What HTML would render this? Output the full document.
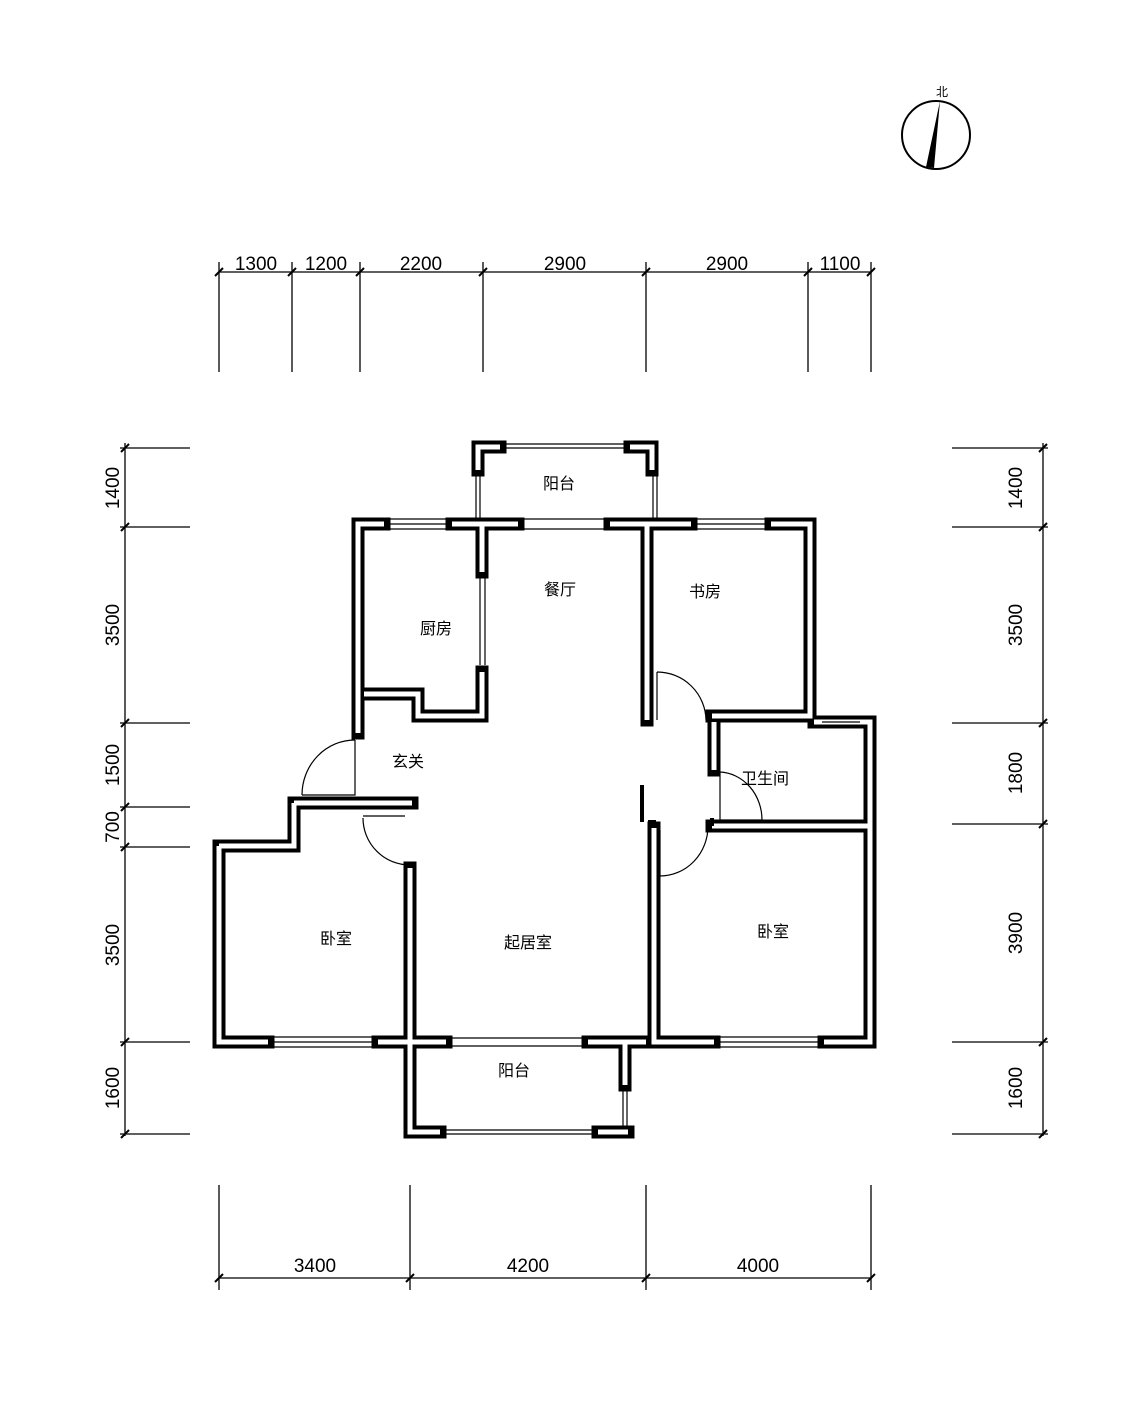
<!DOCTYPE html>
<html><head><meta charset="utf-8"><style>
html,body{margin:0;padding:0;background:#fff}
svg{display:block}
text{font-family:"Liberation Sans","Noto Sans CJK SC",sans-serif;fill:#000}
</style></head><body>
<svg width="1125" height="1406" viewBox="0 0 1125 1406" xmlns="http://www.w3.org/2000/svg">
<circle cx="936" cy="135" r="34" fill="none" stroke="#000" stroke-width="2"/>
<polygon points="940,101 934,168 926,167" fill="#000"/>
<text x="942" y="96" font-size="12" text-anchor="middle">北</text>

<g stroke="#000" stroke-width="1.3" fill="none">
<line x1="219" y1="272" x2="871" y2="272"/>
<line x1="219" y1="262" x2="219" y2="372"/><line x1="292" y1="262" x2="292" y2="372"/>
<line x1="360" y1="262" x2="360" y2="372"/><line x1="483" y1="262" x2="483" y2="372"/>
<line x1="646" y1="262" x2="646" y2="372"/><line x1="808" y1="262" x2="808" y2="372"/>
<line x1="871" y1="262" x2="871" y2="372"/>
<line x1="219" y1="1278" x2="871" y2="1278"/>
<line x1="219" y1="1185" x2="219" y2="1290"/><line x1="410" y1="1185" x2="410" y2="1290"/>
<line x1="646" y1="1185" x2="646" y2="1290"/><line x1="871" y1="1185" x2="871" y2="1290"/>
<line x1="125" y1="443" x2="125" y2="1136"/>
<line x1="120" y1="448" x2="190" y2="448"/><line x1="120" y1="527" x2="190" y2="527"/>
<line x1="120" y1="723" x2="190" y2="723"/><line x1="120" y1="807" x2="190" y2="807"/>
<line x1="120" y1="847" x2="190" y2="847"/><line x1="120" y1="1042" x2="190" y2="1042"/>
<line x1="120" y1="1134" x2="190" y2="1134"/>
<line x1="1043" y1="443" x2="1043" y2="1136"/>
<line x1="952" y1="448" x2="1048" y2="448"/><line x1="952" y1="527" x2="1048" y2="527"/>
<line x1="952" y1="723" x2="1048" y2="723"/><line x1="952" y1="824" x2="1048" y2="824"/>
<line x1="952" y1="1042" x2="1048" y2="1042"/><line x1="952" y1="1134" x2="1048" y2="1134"/>
</g>
<g stroke="#000" stroke-width="2">
<path d="M215,276l8,-8M288,276l8,-8M356,276l8,-8M479,276l8,-8M642,276l8,-8M804,276l8,-8M867,276l8,-8"/>
<path d="M215,1282l8,-8M406,1282l8,-8M642,1282l8,-8M867,1282l8,-8"/>
<path d="M121,452l8,-8M121,531l8,-8M121,727l8,-8M121,811l8,-8M121,851l8,-8M121,1046l8,-8M121,1138l8,-8"/>
<path d="M1039,452l8,-8M1039,531l8,-8M1039,727l8,-8M1039,828l8,-8M1039,1046l8,-8M1039,1138l8,-8"/>
</g>
<g font-size="19" text-anchor="middle">
<text x="256" y="270">1300</text><text x="326" y="270">1200</text><text x="421" y="270">2200</text>
<text x="565" y="270">2900</text><text x="727" y="270">2900</text><text x="840" y="270">1100</text>
<text x="315" y="1272">3400</text><text x="528" y="1272">4200</text><text x="758" y="1272">4000</text>
</g>
<g font-size="19" text-anchor="middle">
<text transform="translate(119,488) rotate(-90)">1400</text>
<text transform="translate(119,625) rotate(-90)">3500</text>
<text transform="translate(119,765) rotate(-90)">1500</text>
<text transform="translate(119,827) rotate(-90)">700</text>
<text transform="translate(119,945) rotate(-90)">3500</text>
<text transform="translate(119,1088) rotate(-90)">1600</text>
<text transform="translate(1022,488) rotate(-90)">1400</text>
<text transform="translate(1022,625) rotate(-90)">3500</text>
<text transform="translate(1022,773) rotate(-90)">1800</text>
<text transform="translate(1022,933) rotate(-90)">3900</text>
<text transform="translate(1022,1088) rotate(-90)">1600</text>
</g>

<g fill="none" stroke-linejoin="miter" stroke-linecap="square">
<g stroke="#000" stroke-width="13">
<path d="M384,524H358V733"/>
<path d="M364,694H418V716H482V672"/>
<path d="M452,524H518"/>
<path d="M482,524V572"/>
<path d="M610,524H691"/><path d="M647,524V720"/>
<path d="M771,524H810V716H712"/>
<path d="M478,470V447H500"/><path d="M630,447H652V470"/>
<path d="M714,722V770"/><path d="M814,722H870V1042H824"/>
<path d="M712,826H870"/>
<path d="M654,828V1042H714"/>
<path d="M294,803H412"/><path d="M219,846H294V803"/>
<path d="M219,846V1042H268"/><path d="M378,1042H446"/>
<path d="M410,868V1132H440"/>
<path d="M588,1042H646"/><path d="M625,1042V1085"/>
<path d="M598,1132H628"/>
</g>
<g stroke="#fff" stroke-width="5" stroke-linecap="butt">
<path d="M384,524H358V733"/>
<path d="M364,694H418V716H482V672"/>
<path d="M452,524H518"/>
<path d="M482,524V572"/>
<path d="M610,524H691"/><path d="M647,524V720"/>
<path d="M771,524H810V716H712"/>
<path d="M478,470V447H500"/><path d="M630,447H652V470"/>
<path d="M714,722V770"/><path d="M814,722H870V1042H824"/>
<path d="M712,826H870"/>
<path d="M654,828V1042H714"/>
<path d="M294,803H412"/><path d="M219,846H294V803"/>
<path d="M219,846V1042H268"/><path d="M378,1042H446"/>
<path d="M410,868V1132H440"/>
<path d="M588,1042H646"/><path d="M625,1042V1085"/>
<path d="M598,1132H628"/>
</g>
</g>
<g stroke="#000" stroke-width="1.2" fill="none">
<path d="M390,519H446M390,524H446M390,529H446"/>
<path d="M697,519H765M697,524H765M697,529H765"/>
<path d="M524,519H604M524,529H604"/>
<path d="M505,444H625M505,448H625"/>
<path d="M476,475V518M480,475V518M653,475V518M657,475V518"/>
<path d="M480,578V665M485,578V665"/>
<path d="M822,718H860M822,722H860M822,726H860"/>
<path d="M274,1037H372M274,1042H372M274,1047H372"/>
<path d="M452,1038H582M452,1046H582"/>
<path d="M720,1037H818M720,1042H818M720,1047H818"/>
<path d="M446,1130H592M446,1134H592"/>
<path d="M623,1090V1128M627,1090V1128"/>
<path d="M355,740V795H302"/>
<path d="M302,795A53,55 0 0 1 355,740"/>
<path d="M363,816H405"/>
<path d="M363,818A47,47 0 0 0 410,865"/>
<path d="M657,672V720"/>
<path d="M657,672A49,49 0 0 1 706,720"/>
<path d="M720,772V820H762"/>
<path d="M720,772A44,48 0 0 1 762,820"/>
<path d="M660,830V876"/>
<path d="M660,876A48,50 0 0 0 708,826"/>
</g>
<g stroke="#000" stroke-width="4" fill="none">
<path d="M642,785V822M648,822H656"/>
<path d="M712,818V826"/>
</g>

<g font-size="16" text-anchor="middle">
<text x="559" y="489">阳台</text>
<text x="560" y="595">餐厅</text>
<text x="436" y="634">厨房</text>
<text x="705" y="597">书房</text>
<text x="408" y="767">玄关</text>
<text x="765" y="784">卫生间</text>
<text x="336" y="944">卧室</text>
<text x="528" y="948">起居室</text>
<text x="773" y="937">卧室</text>
<text x="514" y="1076">阳台</text>
</g>
</svg>
</body></html>
